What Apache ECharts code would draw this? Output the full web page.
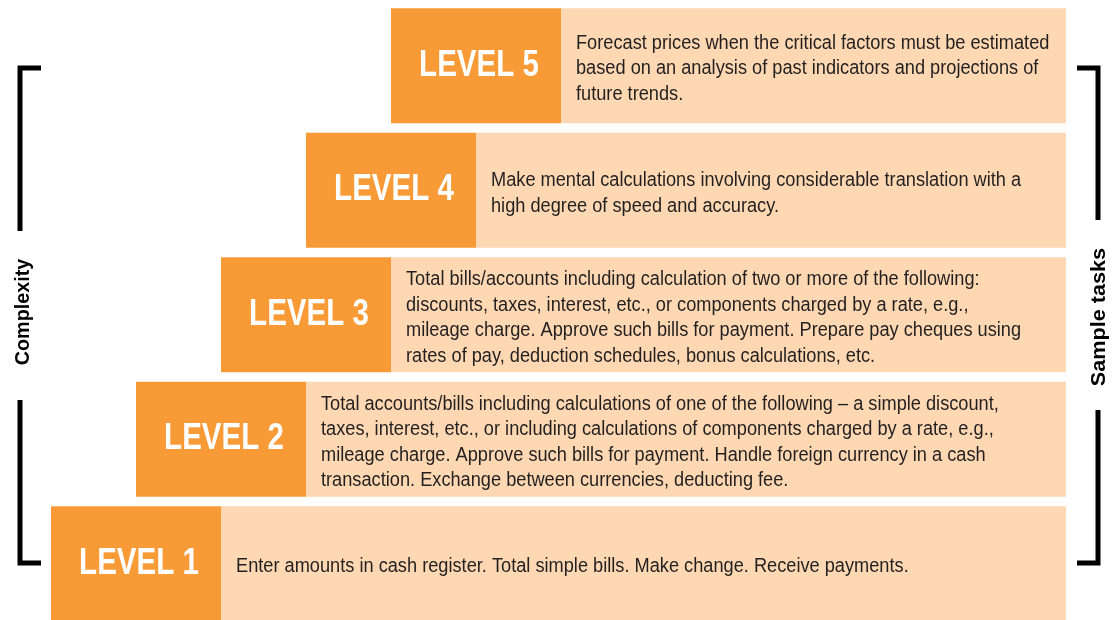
<!DOCTYPE html>
<html>
<head>
<meta charset="utf-8">
<script src="https://cdn.jsdelivr.net/npm/echarts@6/dist/echarts.min.js"></script>
<style>
  html, body { margin: 0; padding: 0; background: #fff; }
  #main { width: 1114px; height: 620px; }
</style>
</head>
<body>
<div id="main"></div>
<script>
// data (bottom to top)
var levels = ['LEVEL 1', 'LEVEL 2', 'LEVEL 3', 'LEVEL 4', 'LEVEL 5'];
var tasks = [
    'Enter amounts in cash register. Total simple bills. Make change. Receive payments.',
    'Total accounts/bills including calculations of one of the following \u2013 a simple discount,\ntaxes, interest, etc., or including calculations of components charged by a rate, e.g.,\nmileage charge. Approve such bills for payment. Handle foreign currency in a cash\ntransaction. Exchange between currencies, deducting fee.',
    'Total bills/accounts including calculation of two or more of the following:\ndiscounts, taxes, interest, etc., or components charged by a rate, e.g.,\nmileage charge. Approve such bills for payment. Prepare pay cheques using\nrates of pay, deduction schedules, bonus calculations, etc.',
    'Make mental calculations involving considerable translation with a\nhigh degree of speed and accuracy.',
    'Forecast prices when the critical factors must be estimated\nbased on an analysis of past indicators and projections of\nfuture trends.'
];
// staircase: indent of each row, width of level block, end of row (axis units)
var indent = [0, 85, 170, 255, 340];
var levelSpan = [170, 170, 170, 170, 170];
var rowEnd = 1015;

var ORANGE = '#F89A36';
var PALE = '#FDD8B2';
var FONT = '"Liberation Sans", Arial, sans-serif';

var rows = levels.map(function (name, i) {
    return [i, indent[i], indent[i] + levelSpan[i], rowEnd];
});

function renderRow(params, api) {
    var i = api.value(0);
    var band = api.size([0, 1])[1];
    var h = band * 0.924;
    var yc = api.coord([0, i])[1];
    var x0 = api.coord([api.value(1), i])[0];
    var x1 = api.coord([api.value(2), i])[0];
    var x2 = api.coord([api.value(3), i])[0];
    return {
        type: 'group',
        children: [
            { type: 'rect', shape: { x: x0, y: yc - h / 2, width: x1 - x0, height: h }, style: { fill: ORANGE } },
            { type: 'rect', shape: { x: x1, y: yc - h / 2, width: x2 - x1, height: h }, style: { fill: PALE } },
            {
                // condensed look: squeeze the glyphs horizontally
                type: 'text', x: (x0 + x1) / 2 + 3, y: yc, scaleX: 0.82,
                style: { text: levels[i], fill: '#fff', font: 'bold 36px ' + FONT, align: 'center', verticalAlign: 'middle' }
            },
            {
                type: 'text', x: x1 + 15, y: yc + 3, scaleX: 0.91,
                style: { text: tasks[i], fill: '#231F20', font: '20px ' + FONT, lineHeight: 25.5, align: 'left', verticalAlign: 'middle' }
            }
        ]
    };
}

var myChart = echarts.init(document.getElementById('main'));
var option = {
    animation: false,
    backgroundColor: '#fff',
    grid: { left: 51, right: 48, top: 3.5, height: 622.5, outerBoundsMode: 'none', containLabel: false },
    xAxis: { type: 'value', min: 0, max: rowEnd, show: false },
    yAxis: { type: 'category', data: levels, show: false },
    series: [{
        type: 'custom',
        renderItem: renderRow,
        encode: { y: 0, x: [1, 2, 3] },
        clip: false,
        data: rows
    }],
    // brackets and side titles
    graphic: [
        { type: 'polyline', shape: { points: [[41, 68], [20, 68], [20, 231]] }, style: { stroke: '#000', lineWidth: 5, fill: null } },
        { type: 'polyline', shape: { points: [[20, 400], [20, 563], [41, 563]] }, style: { stroke: '#000', lineWidth: 5, fill: null } },
        { type: 'polyline', shape: { points: [[1077, 68], [1098, 68], [1098, 220]] }, style: { stroke: '#000', lineWidth: 5, fill: null } },
        { type: 'polyline', shape: { points: [[1098, 410], [1098, 563], [1077, 563]] }, style: { stroke: '#000', lineWidth: 5, fill: null } },
        {
            type: 'text', x: 23, y: 312, rotation: Math.PI / 2, scaleX: 0.94,
            style: { text: 'Complexity', fill: '#000', font: 'bold 21px ' + FONT, textAlign: 'center', textVerticalAlign: 'middle' }
        },
        {
            type: 'text', x: 1099, y: 317, rotation: Math.PI / 2, scaleX: 1.03,
            style: { text: 'Sample tasks', fill: '#000', font: 'bold 21px ' + FONT, textAlign: 'center', textVerticalAlign: 'middle' }
        }
    ]
};
myChart.setOption(option);
</script>
</body>
</html>
